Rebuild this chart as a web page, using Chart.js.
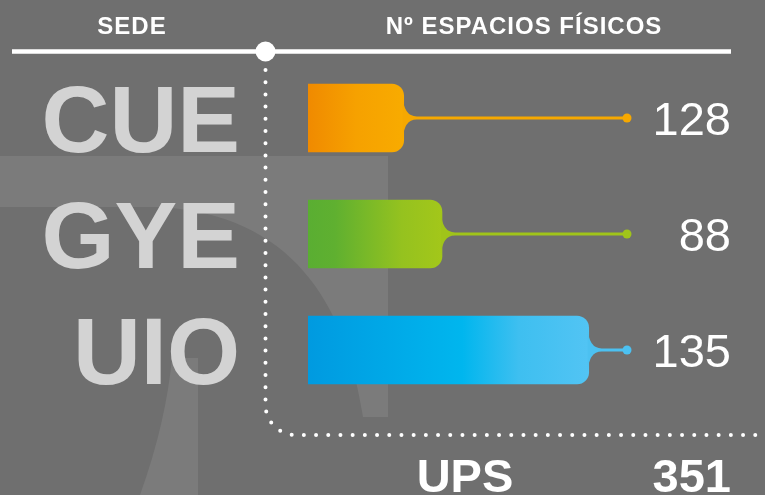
<!DOCTYPE html>
<html>
<head>
<meta charset="utf-8">
<script src="https://cdn.jsdelivr.net/npm/chart.js@4.4.1/dist/chart.umd.min.js"></script>
<style>
  html, body { margin: 0; padding: 0; background: #6f6f6f; }
  #wrap { width: 765px; height: 495px; position: relative; }
</style>
</head>
<body>
<div id="wrap"><canvas id="grafico"></canvas></div>
<script>
// datos
const sedes = ['CUE', 'GYE', 'UIO'];
const espacios = [128, 88, 135];
// largo visual de cada barra (escala 0-100)
const longitudBarra = [30, 42, 88];
const tituloSede = 'SEDE';
const tituloValor = 'Nº ESPACIOS FÍSICOS';
const etiquetaTotal = 'UPS';

const degradados = [
  [[0, '#f08a00'], [0.5, '#f6a100'], [1, '#f8ab00']],
  [[0, '#5aae32'], [0.2, '#5fb030'], [0.7, '#95c21f'], [1, '#a3c71a']],
  [[0, '#009ae0'], [0.55, '#00b6ee'], [0.75, '#3ebff0'], [1, '#52c4f4']]
];
const colorLinea = ['#f6a800', '#a0c41a', '#4cc1f1'];

const total = espacios.reduce((a, b) => a + b, 0);

// fondo gris con la "pi" clara
const fondo = {
  id: 'fondo',
  beforeDraw(chart) {
    const c = chart.ctx;
    c.save();
    c.fillStyle = '#6f6f6f';
    c.fillRect(0, 0, chart.width, chart.height);
    c.fillStyle = '#7b7b7b';
    // barra superior y pata derecha
    c.beginPath();
    c.moveTo(0, 156);
    c.lineTo(388, 156);
    c.lineTo(388, 417);
    c.lineTo(363, 417);
    c.bezierCurveTo(345, 300, 290, 215, 160, 207);
    c.lineTo(0, 207);
    c.closePath();
    c.fill();
    // pata izquierda
    c.beginPath();
    c.moveTo(172, 358);
    c.lineTo(198, 358);
    c.lineTo(198, 495);
    c.lineTo(140, 495);
    c.bezierCurveTo(158, 445, 168, 400, 172, 358);
    c.closePath();
    c.fill();
    c.restore();
  }
};

// encabezados, línea punteada, cuello de cada barra, etiquetas
const adornos = {
  id: 'adornos',
  beforeDatasetsDraw(chart) {
    const c = chart.ctx;
    c.save();
    // encabezados
    c.fillStyle = '#ffffff';
    c.font = 'bold 24px "Liberation Sans", Arial, sans-serif';
    c.letterSpacing = '1px';
    c.textAlign = 'center';
    c.textBaseline = 'alphabetic';
    c.fillText(tituloSede, 132, 34);
    c.fillText(tituloValor, 524, 34);
    c.letterSpacing = '0px';
    // línea superior
    c.strokeStyle = '#ffffff';
    c.lineWidth = 4.5;
    c.beginPath();
    c.moveTo(12, 51.5);
    c.lineTo(731, 51.5);
    c.stroke();
    c.beginPath();
    c.arc(265.5, 51.5, 10, 0, Math.PI * 2);
    c.fillStyle = '#ffffff';
    c.fill();
    // línea punteada
    c.setLineDash([0, 12.2]);
    c.lineCap = 'round';
    c.lineWidth = 4;
    c.beginPath();
    c.moveTo(265.5, 70);
    c.lineTo(265.5, 405);
    c.arcTo(265.5, 435, 296, 435, 30);
    c.lineTo(775, 435);
    c.stroke();
    c.setLineDash([]);
    c.restore();
  },
  afterDatasetsDraw(chart) {
    const c = chart.ctx;
    const xs = chart.scales.x;
    const ys = chart.scales.y;
    const meta = chart.getDatasetMeta(0);
    const xFin = xs.getPixelForValue(xs.max);
    c.save();
    meta.data.forEach((bar, i) => {
      const xe = bar.x;
      const y = bar.y;
      const h = 1.6;
      c.fillStyle = colorLinea[i];
      c.beginPath();
      c.moveTo(xe - 1, y - 22);
      c.quadraticCurveTo(xe, y - h, xe + 13, y - h);
      c.lineTo(xFin, y - h);
      c.lineTo(xFin, y + h);
      c.lineTo(xe + 13, y + h);
      c.quadraticCurveTo(xe, y + h, xe - 1, y + 22);
      c.closePath();
      c.fill();
      c.beginPath();
      c.arc(xFin, y, 4.5, 0, Math.PI * 2);
      c.fill();
    });
    // nombres de sede
    c.fillStyle = '#d3d3d3';
    c.font = 'bold 94px "Liberation Sans", Arial, sans-serif';
    c.textAlign = 'right';
    c.textBaseline = 'alphabetic';
    sedes.forEach((s, i) => {
      c.fillText(s, 240, ys.getPixelForValue(i) + 34);
    });
    // valores
    c.fillStyle = '#ffffff';
    c.font = '47px "Liberation Sans", Arial, sans-serif';
    espacios.forEach((v, i) => {
      c.fillText(String(v), 731, ys.getPixelForValue(i) + 17);
    });
    // total
    c.font = 'bold 47px "Liberation Sans", Arial, sans-serif';
    c.fillText(String(total), 731, 492);
    c.textAlign = 'center';
    c.fillText(etiquetaTotal, 465, 492);
    c.restore();
  }
};

function degradado(ctx) {
  const chart = ctx.chart;
  const i = ctx.dataIndex;
  if (!chart.chartArea || ctx.type !== 'data') return degradados[i || 0][0][1];
  const xs = chart.scales.x;
  const x0 = xs.getPixelForValue(0);
  const x1 = xs.getPixelForValue(longitudBarra[i]);
  const g = chart.ctx.createLinearGradient(x0, 0, x1, 0);
  degradados[i].forEach(([p, col]) => g.addColorStop(p, col));
  return g;
}

new Chart(document.getElementById('grafico'), {
  type: 'bar',
  data: {
    labels: sedes,
    datasets: [{
      data: longitudBarra,
      backgroundColor: degradado,
      borderRadius: 12,
      borderSkipped: 'start',
      barThickness: 68
    }]
  },
  options: {
    indexAxis: 'y',
    responsive: true,
    maintainAspectRatio: false,
    animation: false,
    layout: { padding: { left: 308, right: 138, top: 60, bottom: 87 } },
    scales: {
      x: { display: false, min: 0, max: 100 },
      y: { display: false }
    },
    plugins: {
      legend: { display: false },
      tooltip: { enabled: false }
    }
  },
  plugins: [fondo, adornos]
});
</script>
</body>
</html>
